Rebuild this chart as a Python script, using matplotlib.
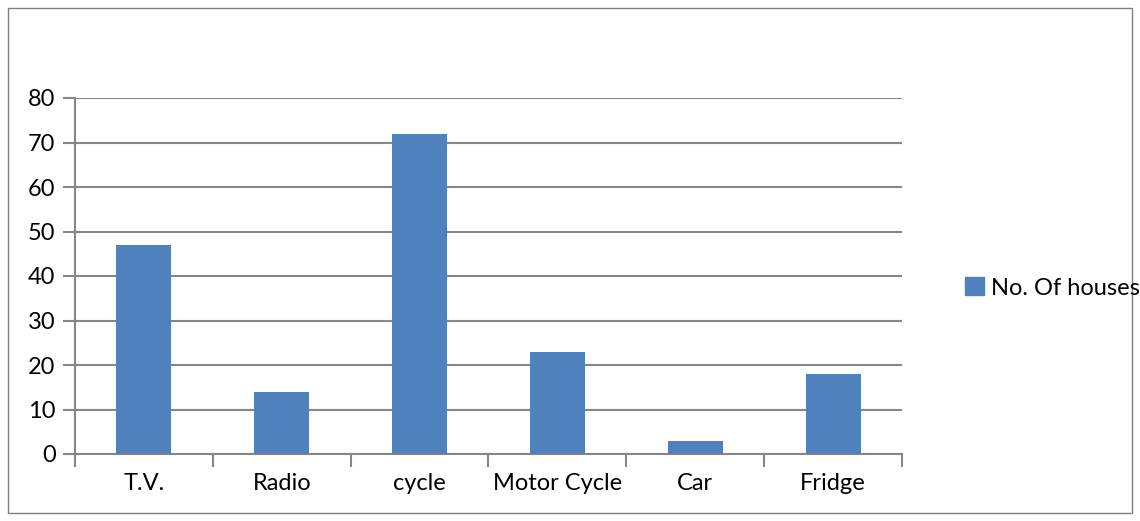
import matplotlib
matplotlib.use("Agg")
import matplotlib.pyplot as plt
from matplotlib.patches import Rectangle

categories = ["T.V.", "Radio", "cycle", "Motor Cycle", "Car", "Fridge"]
houses = [47, 14, 72, 23, 3, 18]
series_name = "No. Of houses"
y_ticks = [0, 10, 20, 30, 40, 50, 60, 70, 80]

plt.rcParams['font.family'] = ['Lato', 'DejaVu Sans']

bar_color = "#4F81BD"
grid_color = "#868686"

fig = plt.figure(figsize=(11.4, 5.21), dpi=100)
fig.patch.set_facecolor("white")
fig.add_artist(Rectangle((8/1140, 8/521), 1 - 16/1140, 1 - 16/521,
                         transform=fig.transFigure, fill=False,
                         edgecolor="#7f7f7f", linewidth=1.0))

ax = fig.add_axes([75/1140, 1 - 454/521, (902 - 75)/1140, (454 - 98)/521])
x = list(range(len(categories)))
ax.bar(x, houses, width=0.4, color=bar_color, zorder=3, label=series_name)
ax.set_xlim(-0.5, len(categories) - 0.5)
ax.set_ylim(0, 80)
ax.set_yticks(y_ticks)
ax.set_yticklabels([str(v) for v in y_ticks], fontsize=17)
ax.set_xticks(x)
ax.set_xticklabels(categories, fontsize=17)
ax.tick_params(axis='x', length=0, pad=14)
ax.tick_params(axis='y', length=9, width=1.5, color=grid_color, pad=5)
ax.set_xticks([i - 0.5 for i in range(len(categories) + 1)], minor=True)
ax.tick_params(axis='x', which='minor', length=9, width=1.5, color=grid_color)
ax.yaxis.grid(True, color=grid_color, linewidth=1.5, zorder=0)
ax.set_axisbelow(True)
for s in ['top', 'right']:
    ax.spines[s].set_visible(False)
for s in ['left', 'bottom']:
    ax.spines[s].set_color(grid_color)
    ax.spines[s].set_linewidth(1.5)

handles = [Rectangle((0, 0), 1, 1, color=bar_color)]
leg = fig.legend(handles, [series_name], loc='center left',
                 bbox_to_anchor=(965/1140, 1 - 288/521), frameon=False,
                 fontsize=17, handlelength=0.8, handleheight=0.8, handletextpad=0.3,
                 borderaxespad=0, borderpad=0)

fig.savefig("out.png", dpi=100)
